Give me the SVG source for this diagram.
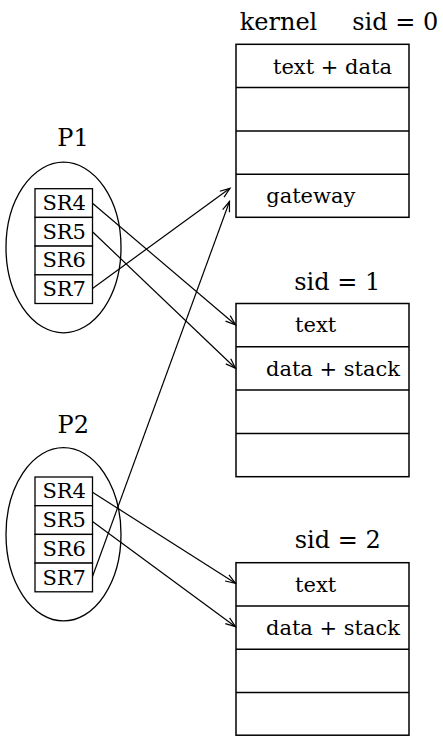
<svg xmlns="http://www.w3.org/2000/svg" width="443" height="736" viewBox="0 0 443 736">
<style>
.t{font-family:"DejaVu Serif","Liberation Serif",serif;font-size:21px;fill:#000;text-anchor:middle}
.h{font-family:"DejaVu Serif","Liberation Serif",serif;font-size:24px;fill:#000;text-anchor:middle}
.box{fill:none;stroke:#000;stroke-width:1.5}
.sr{fill:#fff;stroke:#000;stroke-width:1.3}
.ell{fill:none;stroke:#000;stroke-width:1.3}
.arr{fill:none;stroke:#000;stroke-width:1.2;marker-end:url(#ah)}
</style>
<defs>
<marker id="ah" markerUnits="userSpaceOnUse" viewBox="-12 -6 14 12" refX="0" refY="0" markerWidth="14" markerHeight="12" orient="auto">
<path d="M-10,-3.6 L0,0 L-10,3.6" fill="none" stroke="#000" stroke-width="1.2"/>
</marker>
</defs>
<rect width="443" height="736" fill="#fff"/>

<g id="kernel">
<text class="h" x="278.5" y="30">kernel</text>
<text class="h" x="395.3" y="30">sid = 0</text>
<rect class="box" x="236" y="44.3" width="173" height="173"/>
<line class="box" x1="236" y1="87.6" x2="409" y2="87.6"/>
<line class="box" x1="236" y1="130.9" x2="409" y2="130.9"/>
<line class="box" x1="236" y1="174.2" x2="409" y2="174.2"/>
<text class="t" x="332.5" y="74">text + data</text>
<text class="t" x="310.8" y="203">gateway</text>
</g>

<g id="seg1">
<text class="h" x="337.3" y="290">sid = 1</text>
<rect class="box" x="236" y="303.5" width="173" height="173.2"/>
<line class="box" x1="236" y1="346.8" x2="409" y2="346.8"/>
<line class="box" x1="236" y1="390.1" x2="409" y2="390.1"/>
<line class="box" x1="236" y1="433.4" x2="409" y2="433.4"/>
<text class="t" x="315.7" y="332.3">text</text>
<text class="t" x="333" y="375.7">data + stack</text>
</g>

<g id="seg2">
<text class="h" x="337.8" y="548.3">sid = 2</text>
<rect class="box" x="236" y="562.7" width="173" height="172.5"/>
<line class="box" x1="236" y1="606" x2="409" y2="606"/>
<line class="box" x1="236" y1="649.3" x2="409" y2="649.3"/>
<line class="box" x1="236" y1="692.6" x2="409" y2="692.6"/>
<text class="t" x="315.7" y="591.7">text</text>
<text class="t" x="333" y="635">data + stack</text>
</g>

<g id="P1">
<text class="h" x="73" y="146">P1</text>
<ellipse class="ell" cx="63.5" cy="247.5" rx="57.5" ry="85.3"/>
<rect class="sr" x="35" y="188.7" width="57.5" height="28.7"/>
<rect class="sr" x="35" y="217.4" width="57.5" height="28.7"/>
<rect class="sr" x="35" y="246.1" width="57.5" height="28.7"/>
<rect class="sr" x="35" y="274.8" width="57.5" height="28.7"/>
<text class="t" x="64.2" y="210">SR4</text>
<text class="t" x="64.2" y="238.7">SR5</text>
<text class="t" x="64.2" y="267.4">SR6</text>
<text class="t" x="64.2" y="296.1">SR7</text>
</g>

<g id="P2">
<text class="h" x="73.3" y="433.3">P2</text>
<ellipse class="ell" cx="63.5" cy="534.3" rx="57.5" ry="86.6"/>
<rect class="sr" x="35" y="477" width="57.5" height="28.7"/>
<rect class="sr" x="35" y="505.7" width="57.5" height="28.7"/>
<rect class="sr" x="35" y="534.4" width="57.5" height="28.7"/>
<rect class="sr" x="35" y="563.1" width="57.5" height="28.7"/>
<text class="t" x="64.2" y="498.4">SR4</text>
<text class="t" x="64.2" y="527.1">SR5</text>
<text class="t" x="64.2" y="555.8">SR6</text>
<text class="t" x="64.2" y="584.5">SR7</text>
</g>

<g id="connectors">
<line class="arr" x1="92.5" y1="203.2" x2="235.5" y2="324.8"/>
<line class="arr" x1="92.5" y1="231.8" x2="235.5" y2="368.2"/>
<line class="arr" x1="92.5" y1="288.4" x2="230" y2="188.3"/>
<line class="arr" x1="92.5" y1="492.3" x2="235.5" y2="583.3"/>
<line class="arr" x1="92.5" y1="521.5" x2="235.5" y2="626.7"/>
<line class="arr" x1="92.5" y1="576.5" x2="229.5" y2="201.5"/>
</g>
</svg>
